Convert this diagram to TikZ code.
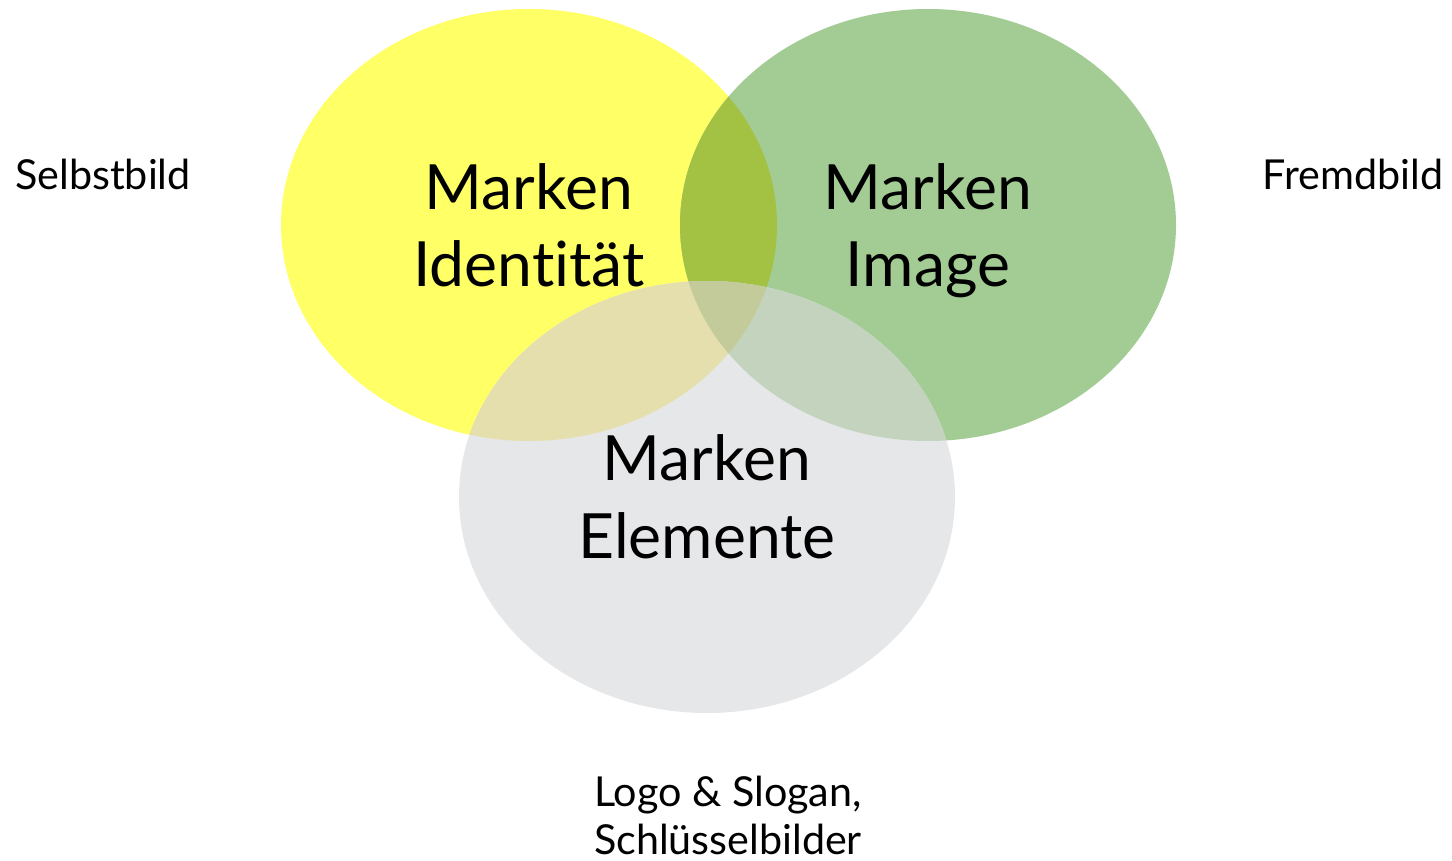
\documentclass[tikz,border=0pt]{standalone}
\usepackage{fontspec}
\setmainfont{Lato}[Ligatures=NoCommon]
\usepackage{tikz}
\usetikzlibrary{positioning}
\definecolor{gelb}{HTML}{FFFF66}
\definecolor{gruen}{HTML}{A3CB94}
\definecolor{grau}{HTML}{E6E7E9}
\definecolor{gelbgruen}{HTML}{A3C143}
\definecolor{gelbgrau}{HTML}{E5DFAD}
\definecolor{gruengrau}{HTML}{C3D3BE}
\definecolor{mitte}{HTML}{C3CB9A}
\tikzset{
  gross/.style={font=\fontsize{35.5}{44}\selectfont, align=center, anchor=base},
  klein/.style={font=\fontsize{23.5}{27}\selectfont, align=center, anchor=base}
}

\begin{document}
\begin{tikzpicture}[x=0.02cm,y=-0.02cm]
      \useasboundingbox (0,0) rectangle (1452,861);
      % Kreise
      \fill[gelb] (529,225) ellipse [x radius=248, y radius=216];
      \fill[gruen] (928,225) ellipse [x radius=248, y radius=216];
      \fill[grau] (707,497) ellipse [x radius=248, y radius=216];
      % Schnittflaechen
      \begin{scope}
        \clip (529,225) ellipse [x radius=248, y radius=216];
        \fill[gelbgruen] (928,225) ellipse [x radius=248, y radius=216];
        \fill[gelbgrau] (707,497) ellipse [x radius=248, y radius=216];
      \end{scope}
      \begin{scope}
        \clip (928,225) ellipse [x radius=248, y radius=216];
        \fill[gruengrau] (707,497) ellipse [x radius=248, y radius=216];
        \clip (529,225) ellipse [x radius=248, y radius=216];
        \fill[mitte] (707,497) ellipse [x radius=248, y radius=216];
      \end{scope}
      % Texte
      \node[gross] (identitaet) at (529,287) {Marken\\Identität};
      \node[gross] (image) at (928,287) {Marken\\Image};
      \node[gross] (elemente) at (707,558) {Marken\\Elemente};
      \node[klein] (selbstbild) at (103,190) {Selbstbild};
      \node[klein] (fremdbild) at (1353,190) {Fremdbild};
      \node[klein] (logo) at (728,854) {Logo \& Slogan,\\Schlüsselbilder};
\end{tikzpicture}
\end{document}
